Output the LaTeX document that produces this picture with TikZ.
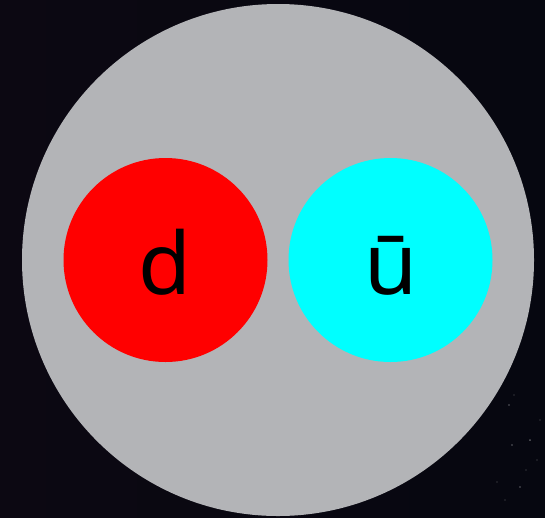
\documentclass[tikz,border=0pt]{standalone}
\usepackage{fontspec}
\setmainfont{Noto Sans}
\definecolor{bgdark}{RGB}{6,7,16}
\definecolor{bgleft}{RGB}{12,8,18}
\definecolor{shell}{RGB}{179,180,183}
\definecolor{quarkred}{RGB}{255,0,0}
\definecolor{quarkcyan}{RGB}{0,255,255}
\tikzset{
  quark/.style={circle, minimum size=204pt, inner sep=0pt, draw=none},
  label text/.style={font=\fontsize{86}{86}\selectfont, text=black, anchor=base, inner sep=0pt},
  star/.style={circle, fill=white, inner sep=0pt, minimum size=#1, opacity=0.35}
}
\begin{document}
\begin{tikzpicture}[x=1pt,y=-1pt]
  \useasboundingbox (0,0) rectangle (545,517);
  \shade[left color=bgleft, right color=bgdark] (0,0) rectangle (545,517);
  % faint stars at lower right
  \foreach \sx/\sy/\ss in {509/405/1.6pt, 512/445/1.8pt, 526/470/1.4pt, 520/487/1.6pt, 540/420/1.4pt, 497/482/1.2pt, 530/440/2pt, 537/460/1.2pt, 505/500/1.2pt, 514/395/1.2pt}
    \node[star=\ss] at (\sx,\sy) {};
  \node[circle, fill=shell, minimum size=512pt, inner sep=0pt] (hadron) at (278,260) {};
  \node[quark, fill=quarkred] (dq) at (165.5,260) {};
  \node[quark, fill=quarkcyan] (uq) at (390.5,260) {};
  \node[label text] (dl) at (165,294) {d};
  \node[label text] (ul) at (391,294) {ū};
\end{tikzpicture}
\end{document}
